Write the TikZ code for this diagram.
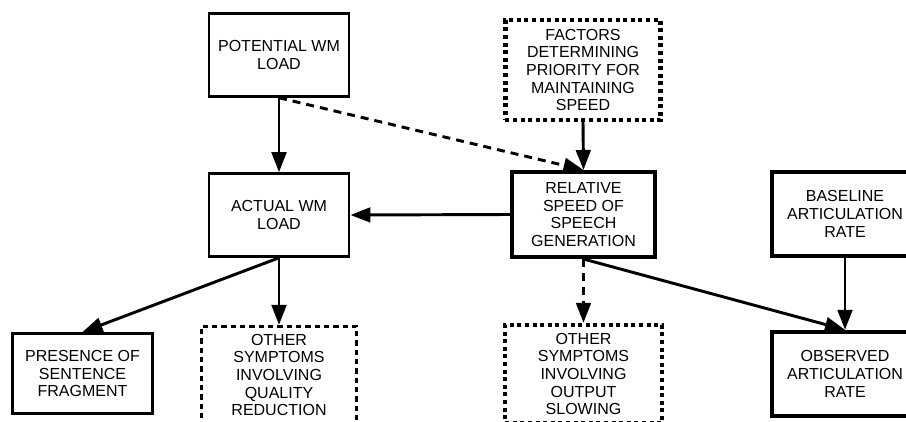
\documentclass[tikz,border=0pt]{standalone}
\usepackage{fontspec}
\setmainfont{Liberation Sans}
\usetikzlibrary{arrows.meta}

\tikzset{
  plainbox/.style={draw, line width=2.2pt, align=center, inner sep=0pt,
    font=\fontsize{12}{13.3}\selectfont},
  boldbox/.style={plainbox, line width=3.3pt},
  dashedbox/.style={plainbox, dash pattern=on 4pt off 3pt},
  dottedbox/.style={boldbox, dash pattern=on 3pt off 2.7pt},
  link/.style={-{Triangle[length=15pt,width=11pt]}, line width=2.2pt},
  dashlink/.style={link, dash pattern=on 6pt off 4.5pt},
}

\begin{document}
\begin{tikzpicture}[x=0.75pt, y=-0.75pt]
  \useasboundingbox (0,0) rectangle (906,421);
  % Top row
  \node[plainbox, minimum width=105pt, minimum height=62pt] (potential) at (279,55)
    {POTENTIAL WM\\LOAD};
  \node[dottedbox, minimum width=116.5pt, minimum height=75pt] (factors) at (583,70)
    {FACTORS\\DETERMINING\\PRIORITY FOR\\MAINTAINING\\SPEED};
  % Middle row
  \node[plainbox, minimum width=105pt, minimum height=62pt] (actual) at (279,215)
    {ACTUAL WM\\LOAD};
  \node[boldbox, minimum width=107pt, minimum height=63.5pt] (relative) at (583.5,214.5)
    {RELATIVE\\SPEED OF\\SPEECH\\GENERATION};
  \node[boldbox, minimum width=109.5pt, minimum height=63pt] (baseline) at (845,214)
    {BASELINE\\ARTICULATION\\RATE};
  % Bottom row
  \node[plainbox, minimum width=105pt, minimum height=60pt] (presence) at (82.5,373.5)
    {PRESENCE OF\\SENTENCE\\FRAGMENT};
  \node[dashedbox, minimum width=116.5pt, minimum height=73pt] (quality) at (279,375)
    {OTHER\\SYMPTOMS\\INVOLVING\\QUALITY\\REDUCTION};
  \node[dottedbox, minimum width=117.5pt, minimum height=73.5pt] (output) at (583.5,374)
    {OTHER\\SYMPTOMS\\INVOLVING\\OUTPUT\\SLOWING};
  \node[boldbox, minimum width=109.5pt, minimum height=63pt] (observed) at (845,374)
    {OBSERVED\\ARTICULATION\\RATE};
  % Connectors
  \draw[link] (potential.south) -- (actual.north);
  \draw[dashlink] (potential.south) -- (relative.north);
  \draw[link] (factors.south) -- (relative.north);
  \draw[link] (relative.west) -- (actual.east);
  \draw[link] (actual.south) -- (presence.north);
  \draw[link] (actual.south) -- (quality.north);
  \draw[dashlink] (relative.south) -- (output.north);
  \draw[link] (relative.south) -- (observed.north);
  \draw[link] (baseline.south) -- (observed.north);
\end{tikzpicture}
\end{document}
